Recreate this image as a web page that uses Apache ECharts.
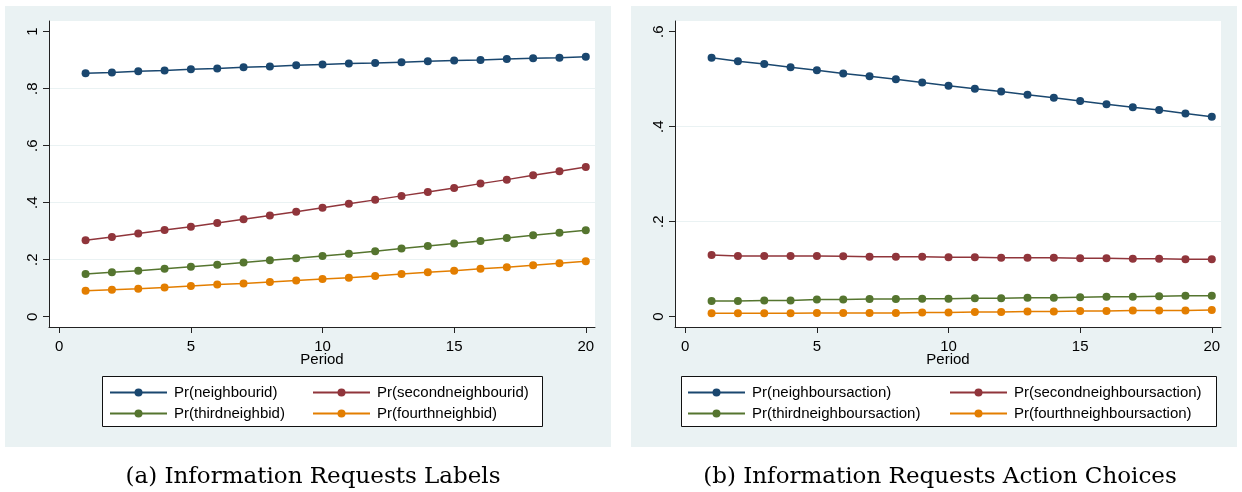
<!DOCTYPE html>
<html>
<head>
<meta charset="utf-8">
<title>Information Requests</title>
<script src="https://cdn.jsdelivr.net/npm/echarts@6/dist/echarts.min.js"></script>
<style>
  html, body { margin: 0; padding: 0; background: #fff; }
  #chart { width: 1242px; height: 492px; }
</style>
</head>
<body>
<div id="chart"></div>
<script>
// periods on the x axis
var periods = [1, 2, 3, 4, 5, 6, 7, 8, 9, 10, 11, 12, 13, 14, 15, 16, 17, 18, 19, 20]

// (a) labels
var labelNames = ['Pr(neighbourid)', 'Pr(secondneighbourid)', 'Pr(thirdneighbid)', 'Pr(fourthneighbid)']
var neighbourId = [0.854, 0.857, 0.861, 0.864, 0.868, 0.871, 0.875, 0.878, 0.882, 0.885,
                   0.888, 0.890, 0.893, 0.896, 0.899, 0.901, 0.904, 0.907, 0.909, 0.912]
var secondNeighbourId = [0.268, 0.280, 0.292, 0.304, 0.316, 0.329, 0.342, 0.355, 0.368, 0.382,
                         0.396, 0.410, 0.424, 0.438, 0.452, 0.467, 0.481, 0.496, 0.510, 0.525]
var thirdNeighbId = [0.150, 0.156, 0.161, 0.168, 0.175, 0.182, 0.190, 0.198, 0.205, 0.213,
                     0.221, 0.230, 0.239, 0.248, 0.257, 0.266, 0.276, 0.286, 0.295, 0.303]
var fourthNeighbId = [0.091, 0.095, 0.098, 0.103, 0.108, 0.113, 0.117, 0.122, 0.127, 0.132,
                      0.137, 0.143, 0.150, 0.156, 0.161, 0.168, 0.174, 0.181, 0.188, 0.195]

// (b) action choices
var actionNames = ['Pr(neighboursaction)', 'Pr(secondneighboursaction)', 'Pr(thirdneighboursaction)', 'Pr(fourthneighboursaction)']
var neighboursAction = [0.545, 0.538, 0.532, 0.525, 0.519, 0.512, 0.506, 0.500, 0.493, 0.486,
                        0.480, 0.474, 0.467, 0.461, 0.454, 0.447, 0.441, 0.435, 0.428, 0.421]
var secondNeighboursAction = [0.130, 0.128, 0.128, 0.128, 0.128, 0.127, 0.126, 0.126, 0.126, 0.125,
                              0.125, 0.124, 0.124, 0.124, 0.123, 0.123, 0.122, 0.122, 0.121, 0.121]
var thirdNeighboursAction = [0.033, 0.033, 0.034, 0.034, 0.036, 0.036, 0.037, 0.037, 0.038, 0.038,
                             0.039, 0.039, 0.040, 0.040, 0.041, 0.042, 0.042, 0.043, 0.044, 0.044]
var fourthNeighboursAction = [0.007, 0.007, 0.007, 0.007, 0.008, 0.008, 0.008, 0.008, 0.009, 0.009,
                              0.010, 0.010, 0.011, 0.011, 0.012, 0.012, 0.013, 0.013, 0.013, 0.014]

// ticks
var xTicks = [0, 5, 10, 15, 20]
var labelYTicks = [0, 0.2, 0.4, 0.6, 0.8, 1]
var actionYTicks = [0, 0.2, 0.4, 0.6]

var captions = ['(a) Information Requests Labels', '(b) Information Requests Action Choices']
var colors = ['#1a476f', '#90353b', '#55752f', '#e37e00']

var sans = 'Liberation Sans, Arial, sans-serif'
var panelBg = '#eaf2f3'

function pairs(values) {
  return periods.map(function (p, i) {
    return [p, values[i]]
  })
}

// stata style ".8"
function stataNum(v) {
  if (v === 0) return '0'
  if (v === 1) return '1'
  return String(+v.toFixed(2)).replace(/^0/, '')
}

function makeSeries(name, values, idx, axisIdx) {
  return {
    name: name,
    type: 'line',
    xAxisIndex: axisIdx,
    yAxisIndex: axisIdx,
    data: pairs(values),
    symbol: 'circle',
    symbolSize: 8,
    lineStyle: { color: colors[idx], width: 1.5 },
    itemStyle: { color: colors[idx], borderWidth: 0 },
    emphasis: { disabled: true },
    silent: true
  }
}

function makeXAxis(gridIdx) {
  return {
    type: 'value',
    gridIndex: gridIdx,
    min: -0.39,
    max: 20.35,
    splitNumber: 4,
    name: 'Period',
    nameLocation: 'middle',
    nameGap: 25,
    nameMoveOverlap: false,
    nameTextStyle: { color: '#000', fontFamily: sans, fontSize: 15 },
    axisLine: { onZero: false, lineStyle: { color: '#222', width: 1 } },
    axisTick: { show: true, length: 6, customValues: xTicks, lineStyle: { color: '#222' } },
    axisLabel: { customValues: xTicks, color: '#000', fontFamily: sans, fontSize: 15, margin: 12 },
    splitLine: { show: false }
  }
}

function makeYAxis(gridIdx, min, max, ticks, splitNumber) {
  return {
    type: 'value',
    gridIndex: gridIdx,
    min: min,
    max: max,
    splitNumber: splitNumber,
    axisLine: { onZero: false, lineStyle: { color: '#222', width: 1 } },
    axisTick: { show: true, length: 6, customValues: ticks, lineStyle: { color: '#222' } },
    axisLabel: {
      customValues: ticks,
      rotate: 90,
      color: '#000',
      fontFamily: sans,
      fontSize: 15,
      margin: 9,
      formatter: stataNum
    },
    splitLine: { show: true, showMinLine: false, showMaxLine: false, lineStyle: { color: panelBg, width: 1.2 } }
  }
}

function makeLegend(names, left) {
  return {
    data: names,
    orient: 'vertical',
    left: left,
    top: 385,
    itemWidth: 57,
    itemHeight: 10,
    itemGap: 6,
    padding: 0,
    selectedMode: false,
    textStyle: { color: '#000', fontFamily: sans, fontSize: 15, padding: [0, 0, 0, 2] }
  }
}

var chart = echarts.init(document.getElementById('chart'), null, { renderer: 'canvas' })

var series = [
  makeSeries(labelNames[0], neighbourId, 0, 0),
  makeSeries(labelNames[1], secondNeighbourId, 1, 0),
  makeSeries(labelNames[2], thirdNeighbId, 2, 0),
  makeSeries(labelNames[3], fourthNeighbId, 3, 0),
  makeSeries(actionNames[0], neighboursAction, 0, 1),
  makeSeries(actionNames[1], secondNeighboursAction, 1, 1),
  makeSeries(actionNames[2], thirdNeighboursAction, 2, 1),
  makeSeries(actionNames[3], fourthNeighboursAction, 3, 1)
]

var option = {
  animation: false,
  backgroundColor: '#fff',
  grid: [
    { left: 49, top: 21, width: 546, height: 306, show: true, backgroundColor: '#fff', borderWidth: 0 },
    { left: 675, top: 21, width: 546, height: 306, show: true, backgroundColor: '#fff', borderWidth: 0 }
  ],
  xAxis: [makeXAxis(0), makeXAxis(1)],
  yAxis: [
    makeYAxis(0, -0.036, 1.0375, labelYTicks, 5),
    makeYAxis(1, -0.0217, 0.6225, actionYTicks, 3)
  ],
  legend: [
    makeLegend([labelNames[0], labelNames[2]], 109),
    makeLegend([labelNames[1], labelNames[3]], 312),
    makeLegend([actionNames[0], actionNames[2]], 687),
    makeLegend([actionNames[1], actionNames[3]], 949)
  ],
  graphic: [
    // panel backgrounds
    { type: 'rect', z: -10, silent: true, shape: { x: 5, y: 6, width: 606, height: 441 }, style: { fill: panelBg } },
    { type: 'rect', z: -10, silent: true, shape: { x: 631, y: 6, width: 606, height: 441 }, style: { fill: panelBg } },
    // legend boxes
    { type: 'rect', z: 1, silent: true, shape: { x: 102.5, y: 376.5, width: 440, height: 50 }, style: { fill: '#fff', stroke: '#111', lineWidth: 1 } },
    { type: 'rect', z: 1, silent: true, shape: { x: 681.5, y: 376.5, width: 535, height: 50 }, style: { fill: '#fff', stroke: '#111', lineWidth: 1 } },
    // captions
    { type: 'text', silent: true, x: 313, y: 477, style: { text: captions[0], fill: '#000', font: '23px DejaVu Serif', textAlign: 'center', textVerticalAlign: 'middle' } },
    { type: 'text', silent: true, x: 940, y: 477, style: { text: captions[1], fill: '#000', font: '23px DejaVu Serif', textAlign: 'center', textVerticalAlign: 'middle' } }
  ],
  series: series
}

chart.setOption(option)
</script>
</body>
</html>
